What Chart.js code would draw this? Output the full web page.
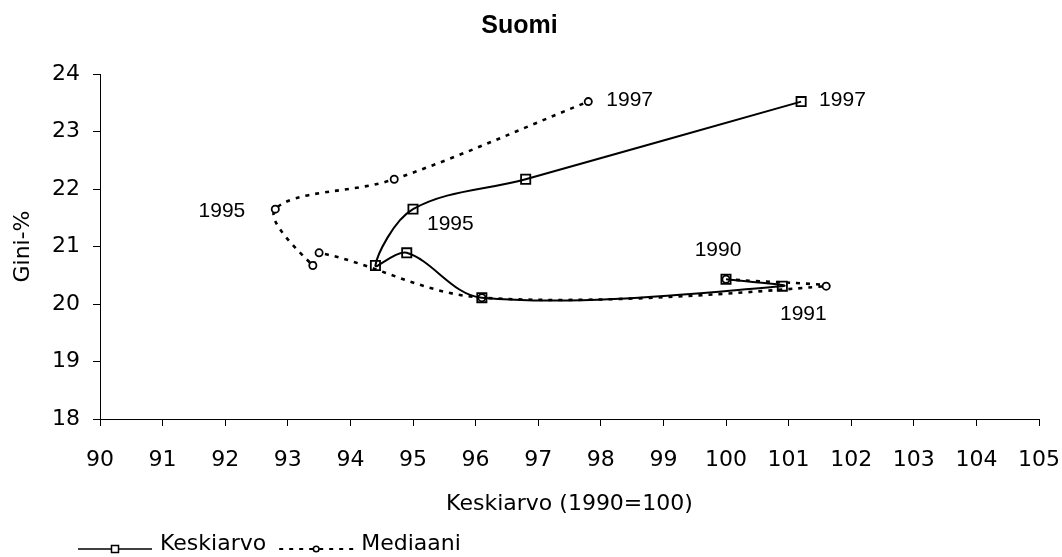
<!DOCTYPE html>
<html>
<head>
<meta charset="utf-8">
<title>Suomi</title>
<script src="https://cdn.jsdelivr.net/npm/chart.js@4/dist/chart.umd.min.js"></script>
<style>
  html, body { margin: 0; padding: 0; background: #fff; }
  #wrap { width: 1062px; height: 557px; position: relative; }
</style>
</head>
<body>
<div id="wrap"><canvas id="gini-chart"></canvas></div>
<script>
// years shown on the curves
const years = ['1990', '1991', '1992', '1993', '1994', '1995', '1996', '1997'];

// income level, 1990 = 100
const keskiarvoX = [100, 100.9, 96.1, 94.9, 94.4, 95.0, 96.8, 101.2];
const mediaaniX = [100, 101.6, 96.1, 93.5, 93.4, 92.8, 94.7, 97.8];

// gini-% for each year (same for both series)
const gini = [20.43, 20.31, 20.11, 20.89, 20.67, 21.65, 22.17, 23.52];

// which years get a text label, and where
const keskiarvoLabelPos = ['above', 'below', null, null, null, 'belowRight', null, 'right'];
const mediaaniLabelPos = [null, null, null, null, null, 'left', null, 'right'];

// axis ticks
const xMin = 90, xMax = 105;
const yMin = 18, yMax = 24;

const toPoints = (xs, ys) => xs.map((x, i) => ({ x: x, y: ys[i] }));

// label offsets from the point centre
const labelOffsets = {
    right: { dx: 18, dy: -1, align: 'left' },
    left: { dx: -30, dy: 2, align: 'right' },
    belowRight: { dx: 14, dy: 15, align: 'left' },
    above: { dx: -8, dy: -29, align: 'center' },
    below: { dx: 21, dy: 28, align: 'center' }
};

// draws the year labels next to points
const pointLabels = {
    id: 'pointLabels',
    afterDatasetsDraw(chart) {
        const ctx = chart.ctx;
        ctx.save();
        ctx.font = '21px "Liberation Sans", Arial, sans-serif';
        ctx.fillStyle = '#000';
        ctx.textBaseline = 'middle';
        chart.data.datasets.forEach((ds, i) => {
            const meta = chart.getDatasetMeta(i);
            (ds.labelPos || []).forEach((pos, j) => {
                if (!pos) return;
                const pt = meta.data[j];
                const o = labelOffsets[pos];
                ctx.textAlign = o.align;
                ctx.fillText(years[j], pt.x + o.dx, pt.y + o.dy);
            });
        });
        ctx.restore();
    }
};

// legend under the x axis title: line with marker in the middle, then text
const bottomLegend = {
    id: 'bottomLegend',
    afterDraw(chart) {
        const ctx = chart.ctx;
        const lineY = chart.height - 8;
        const lineLen = 74;
        let x = 78;
        ctx.save();
        ctx.font = '22px "DejaVu Sans", sans-serif';
        ctx.textBaseline = 'alphabetic';
        ctx.textAlign = 'left';
        chart.data.datasets.forEach(ds => {
            ctx.strokeStyle = '#000';
            ctx.lineWidth = ds.legendLineWidth;
            ctx.setLineDash(ds.borderDash || []);
            ctx.beginPath();
            ctx.moveTo(x, lineY);
            ctx.lineTo(x + lineLen, lineY);
            ctx.stroke();
            ctx.setLineDash([]);
            ctx.lineWidth = 1.5;
            const cx = x + lineLen / 2;
            ctx.fillStyle = '#fff';
            ctx.beginPath();
            if (ds.pointStyle === 'rect') {
                ctx.rect(cx - 3.5, lineY - 3.5, 7, 7);
            } else {
                ctx.arc(cx, lineY, 2.8, 0, Math.PI * 2);
            }
            ctx.fill();
            ctx.stroke();
            ctx.fillStyle = '#000';
            ctx.fillText(ds.label, x + lineLen + 8, lineY + 1);
            x += lineLen + 8 + ctx.measureText(ds.label).width + 13;
        });
        ctx.restore();
    }
};

Chart.defaults.font.family = '"DejaVu Sans", sans-serif';
Chart.defaults.color = '#000';

new Chart(document.getElementById('gini-chart'), {
    type: 'scatter',
    data: {
        datasets: [{
            label: 'Keskiarvo',
            data: toPoints(keskiarvoX, gini),
            showLine: true,
            tension: 0.35,
            borderColor: '#000',
            borderWidth: 2,
            pointStyle: 'rect',
            pointRadius: 6.5,
            pointBorderWidth: 1.8,
            pointBorderColor: '#000',
            pointBackgroundColor: 'rgba(255,255,255,0)',
            labelPos: keskiarvoLabelPos,
            legendLineWidth: 1.5
        }, {
            label: 'Mediaani',
            data: toPoints(mediaaniX, gini),
            showLine: true,
            tension: 0.35,
            borderColor: '#000',
            borderWidth: 2.6,
            borderDash: [4, 6],
            pointStyle: 'circle',
            pointRadius: 3.6,
            pointBorderWidth: 1.8,
            pointBorderColor: '#000',
            pointBackgroundColor: '#fff',
            labelPos: mediaaniLabelPos,
            legendLineWidth: 2
        }]
    },
    options: {
        responsive: true,
        maintainAspectRatio: false,
        animation: false,
        events: [],
        layout: {
            padding: { top: 0, right: 23, bottom: 37, left: 0 }
        },
        plugins: {
            legend: { display: false },
            tooltip: { enabled: false },
            title: {
                display: true,
                text: 'Suomi',
                color: '#000',
                font: { family: '"Liberation Sans", Arial, sans-serif', size: 25, weight: 'bold' },
                padding: { top: 11, bottom: 33 }
            }
        },
        scales: {
            x: {
                type: 'linear',
                min: xMin,
                max: xMax,
                afterFit: (scale) => {
                    scale.height = 101;
                    scale.paddingLeft = 0;
                    scale.paddingRight = 0;
                },
                ticks: {
                    stepSize: 1,
                    autoSkip: false,
                    maxRotation: 0,
                    padding: 21,
                    font: { size: 22 }
                },
                grid: {
                    drawOnChartArea: false,
                    drawTicks: true,
                    tickLength: 7,
                    color: '#000'
                },
                border: { display: true, color: '#000', width: 1 },
                title: {
                    display: true,
                    text: 'Keskiarvo (1990=100)',
                    font: { size: 22 },
                    padding: { top: 0, bottom: 3 }
                }
            },
            y: {
                type: 'linear',
                min: yMin,
                max: yMax,
                afterFit: (scale) => { scale.width = 100; },
                ticks: {
                    stepSize: 1,
                    padding: 13,
                    font: { size: 22 }
                },
                grid: {
                    drawOnChartArea: false,
                    drawTicks: true,
                    tickLength: 7,
                    color: '#000'
                },
                border: { display: true, color: '#000', width: 1 },
                title: {
                    display: true,
                    text: 'Gini-%',
                    font: { size: 22 },
                    padding: { top: 10, bottom: 0 }
                }
            }
        }
    },
    plugins: [pointLabels, bottomLegend]
});
</script>
</body>
</html>
